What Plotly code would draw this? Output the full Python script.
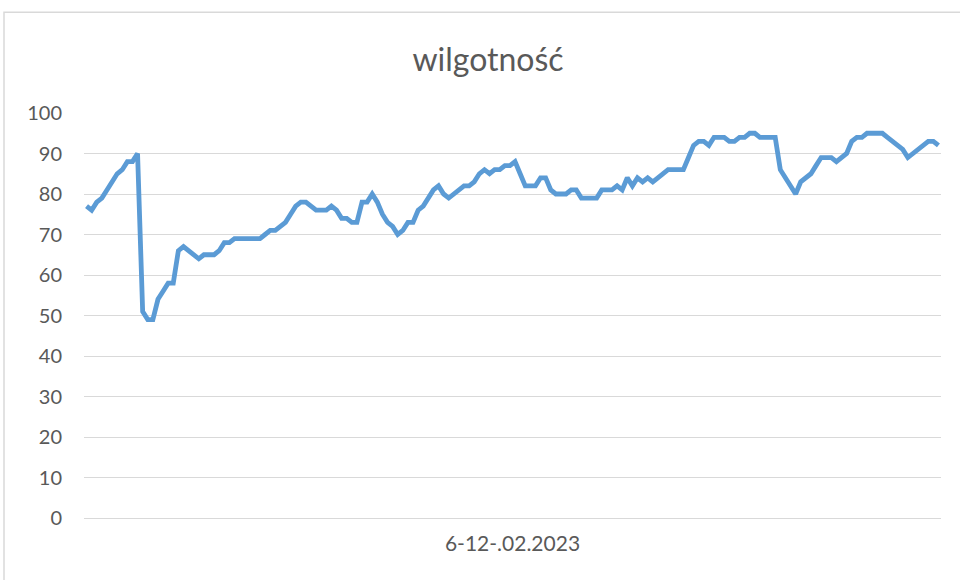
import plotly.graph_objects as go

# hourly humidity readings, 6-12.02.2023
hours = list(range(168))
humidity = [
    77, 76, 78, 79, 81, 83, 85, 86, 88, 88,
    90, 51, 49, 49, 54, 56, 58, 58, 66, 67,
    66, 65, 64, 65, 65, 65, 66, 68, 68, 69,
    69, 69, 69, 69, 69, 70, 71, 71, 72, 73,
    75, 77, 78, 78, 77, 76, 76, 76, 77, 76,
    74, 74, 73, 73, 78, 78, 80, 78, 75, 73,
    72, 70, 71, 73, 73, 76, 77, 79, 81, 82,
    80, 79, 80, 81, 82, 82, 83, 85, 86, 85,
    86, 86, 87, 87, 88, 85, 82, 82, 82, 84,
    84, 81, 80, 80, 80, 81, 81, 79, 79, 79,
    79, 81, 81, 81, 82, 81, 84, 82, 84, 83,
    84, 83, 84, 85, 86, 86, 86, 86, 89, 92,
    93, 93, 92, 94, 94, 94, 93, 93, 94, 94,
    95, 95, 94, 94, 94, 94, 86, 84, 82, 80,
    83, 84, 85, 87, 89, 89, 89, 88, 89, 90,
    93, 94, 94, 95, 95, 95, 95, 94, 93, 92,
    91, 89, 90, 91, 92, 93, 93, 92,
]
y_ticks = [0, 10, 20, 30, 40, 50, 60, 70, 80, 90, 100]
x_label = '6-12-.02.2023'
title_text = 'wilgotność'

fig = go.Figure()
fig.add_trace(go.Scatter(
    x=hours,
    y=humidity,
    mode='lines',
    line=dict(color='#5B9BD5', width=4.8),
    showlegend=False
))

fig.update_layout(
    width=960, height=580,
    paper_bgcolor='white',
    plot_bgcolor='white',
    margin=dict(l=84, r=19, t=113, b=62),
    font=dict(family='Lato', color='#595959'),
    title=dict(
        text=title_text,
        font=dict(size=32, color='#595959'),
        x=488 / 960, xanchor='center',
        y=1 - 60 / 580, yanchor='middle'
    ),
    xaxis=dict(
        range=[-0.5, len(hours) - 0.5],
        showticklabels=False,
        showgrid=False,
        zeroline=False,
        showline=False,
        ticks='',
        title=dict(text=x_label, font=dict(size=21, color='#595959'), standoff=18)
    ),
    yaxis=dict(
        range=[0, 100],
        tickvals=y_ticks,
        tickfont=dict(size=20, color='#595959'),
        showgrid=True,
        gridcolor='#D9D9D9',
        gridwidth=1.3,
        zeroline=True,
        zerolinecolor='#D9D9D9',
        zerolinewidth=1.3,
        showline=False,
        ticks='',
        ticklabelstandoff=21
    )
)

# chart area border (Excel style frame)
fig.add_shape(
    type='rect', xref='paper', yref='paper',
    x0=(4 - 84) / 857, x1=(970 - 84) / 857,
    y0=-0.3, y1=1 + (112.7 - 12) / 405,
    line=dict(color='#D9D9D9', width=1.5),
    fillcolor='rgba(0,0,0,0)',
    layer='below'
)

fig.write_html('out.html', config={'displayModeBar': False},
               post_script="document.body.style.margin='0';")
